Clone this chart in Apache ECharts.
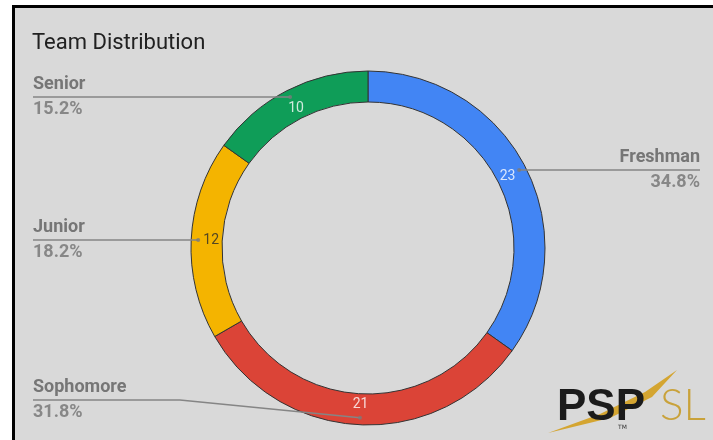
<!DOCTYPE html>
<html><head><meta charset="utf-8">
<script src="https://cdn.jsdelivr.net/npm/echarts@6/dist/echarts.min.js"></script>
<style>
html,body{margin:0;padding:0;background:#fff;}
#frame{position:absolute;left:12px;top:5px;width:701px;height:435px;background:#d9d9d9;border-top:3px solid #000;border-left:3px solid #000;box-sizing:border-box;}
#chart{position:absolute;left:0;top:0;width:713px;height:440px;}
</style></head><body>
<div id="frame"></div><div id="chart"></div>
<script>
const categories = ['Freshman', 'Sophomore', 'Junior', 'Senior'];
const values = [23, 21, 12, 10];
const chartTitle = 'Team Distribution';

// styles (kept apart from data)
const sliceColors = ['#4285F4', '#DB4437', '#F4B400', '#0F9D58'];
const valueLabelColors = ['#ffffff', '#ffffff', '#2a2a2a', '#ffffff'];

const CX = 368, CY = 248, R0 = 146, R1 = 177, DOT_R = 170, VAL_R = 157;
const total = values.reduce((a, b) => a + b, 0);
const mids = [];
{ let acc = 0; values.forEach(v => { mids.push(acc + v / 2); acc += v; }); }

const chart = echarts.init(document.getElementById('chart'), null, {renderer: 'canvas'});
chart.setOption({
  backgroundColor: 'transparent',
  animation: false,
  title: {
    text: chartTitle, left: 27, top: 27,
    textStyle: {fontFamily: 'Roboto', fontSize: 22, fontWeight: 'normal', color: '#212121'}
  },
  polar: {center: [CX, CY], radius: R1},
  angleAxis: {type: 'value', min: 0, max: total, startAngle: 90, clockwise: true, show: false},
  radiusAxis: {type: 'value', min: 0, max: R1, show: false},
  series: [
    {
      type: 'pie', center: [CX, CY], radius: [R0, R1], startAngle: 90, clockwise: true,
      silent: true, z: 2,
      itemStyle: {borderColor: '#333333', borderWidth: 1},
      label: {show: false},
      labelLine: {show: false},
      data: categories.map((c, i) => ({name: c, value: values[i], itemStyle: {color: sliceColors[i]}}))
    },
    {
      type: 'pie', center: [CX, CY], radius: [0, DOT_R], startAngle: 90, clockwise: true,
      silent: true, z: 3, percentPrecision: 1,
      itemStyle: {color: 'rgba(0,0,0,0)', borderWidth: 0},
      label: {
        show: true, position: 'outside',
        formatter: '{name|{b}}\n{pct|{d}%}',
        rich: {
          name: {fontFamily: 'Roboto', fontSize: 18, fontWeight: 'bold', color: '#767676', lineHeight: 25},
          pct: {fontFamily: 'Roboto', fontSize: 18, fontWeight: 'bold', color: '#878787', lineHeight: 25}
        }
      },
      labelLine: {show: true, lineStyle: {color: '#858585', width: 1.5}},
      labelLayout: function (p) {
        const pts = p.labelLinePoints;
        if (!pts) return {};
        const s = pts[0];
        const left = s[0] < CX;
        const lineY = Math.min(s[1], 400);
        const endX = left ? 33 : 700;
        const bendX = left ? Math.max(endX, s[0] - 180) : Math.min(endX, s[0] + 180);
        return {
          x: endX, y: lineY, align: left ? 'left' : 'right', verticalAlign: 'middle',
          labelLinePoints: [[s[0], s[1]], [bendX, lineY], [endX, lineY]]
        };
      },
      data: categories.map((c, i) => ({name: c, value: values[i]}))
    },
    {
      type: 'scatter', coordinateSystem: 'polar', z: 4, silent: true,
      symbol: 'circle', symbolSize: 4,
      itemStyle: {color: '#7a7a7a'},
      data: mids.map(m => [DOT_R, m])
    },
    {
      type: 'scatter', coordinateSystem: 'polar', z: 5, silent: true,
      symbolSize: 0,
      label: {
        show: true, position: 'inside', fontFamily: 'Roboto', fontSize: 14,
        formatter: p => String(values[p.dataIndex]),
        color: '#fff'
      },
      data: mids.map((m, i) => ({value: [VAL_R, m], label: {color: valueLabelColors[i]}}))
    }
  ],
  graphic: [
    {type: 'polygon', z: 10, shape: {points: [[548, 433], [600, 414], [645, 392], [677, 370], [652, 397], [610, 418]]}, style: {fill: '#d4a531'}},
    {type: 'text', z: 11, left: 557, top: 386, style: {text: 'PSP', font: 'bold 44px "Liberation Sans"', fill: '#1b1b1b'}},
    {type: 'text', z: 11, left: 618, top: 424, style: {text: 'TM', font: '6px "DejaVu Sans"', fill: '#333'}},
    {type: 'text', z: 11, left: 660, top: 384, style: {text: 'SL', font: '300 44px "Lato"', fill: '#c9a23a'}}
  ]
});
</script>
</body></html>
